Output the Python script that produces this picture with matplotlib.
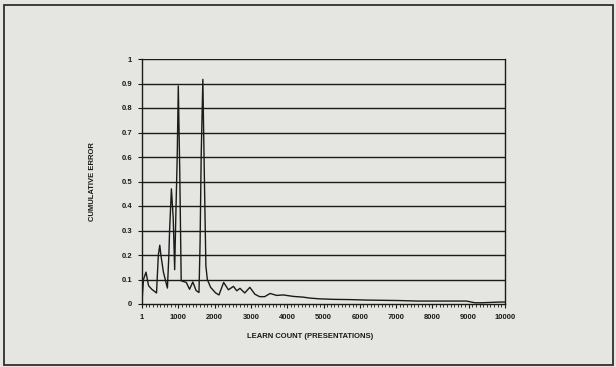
"""
Cumulative error vs learn count, redrawn from a scanned chart
"""

import matplotlib
matplotlib.use('Agg')
import matplotlib.pyplot as plt
from matplotlib.ticker import MultipleLocator
from matplotlib.patches import Rectangle

# learn count (the "1" tick sits at 0) and cumulative error
learn_count = [0, 40, 110, 180, 270, 400, 450, 490, 520, 590, 700,
               740, 760, 810, 860, 900, 930, 970, 1000, 1040, 1080,
               1220, 1310, 1400, 1490, 1570, 1600, 1630, 1676, 1720,
               1760, 1800, 1890, 2030, 2120, 2250, 2380, 2520, 2610,
               2700, 2830, 2970, 3110, 3240, 3380, 3530, 3710, 3890,
               4170, 4440, 4630, 4900, 5260, 5720, 6190, 6650, 7110,
               7580, 8020, 8940, 9170, 9350, 9870, 10000]
cum_error = [0.01, 0.10, 0.13, 0.075, 0.06, 0.045, 0.2, 0.24, 0.2,
             0.13, 0.065, 0.2, 0.3, 0.47, 0.35, 0.14, 0.35, 0.6, 0.89,
             0.54, 0.095, 0.088, 0.06, 0.09, 0.055, 0.047, 0.25, 0.6,
             0.917, 0.5, 0.155, 0.1, 0.068, 0.045, 0.037, 0.088, 0.058,
             0.072, 0.054, 0.064, 0.045, 0.068, 0.04, 0.03, 0.03, 0.043,
             0.035, 0.037, 0.031, 0.028, 0.024, 0.021, 0.019, 0.018,
             0.016, 0.015, 0.014, 0.012, 0.012, 0.012, 0.005, 0.005,
             0.008, 0.008]

x_ticks = [0, 1000, 2000, 3000, 4000, 5000, 6000, 7000, 8000, 9000, 10000]
x_labels = ['1', '1000', '2000', '3000', '4000', '5000', '6000', '7000',
            '8000', '9000', '10000']
y_ticks = [0, 0.1, 0.2, 0.3, 0.4, 0.5, 0.6, 0.7, 0.8, 0.9, 1]
y_labels = ['0', '0.1', '0.2', '0.3', '0.4', '0.5', '0.6', '0.7', '0.8',
            '0.9', '1']

bg = '#e5e6e1'
ink = '#1a1a1a'

fig = plt.figure(figsize=(6.16, 3.67), dpi=100, facecolor=bg)

# scanned page frame
fig.patches.append(Rectangle((4 / 616, 1 - 365 / 367), 609 / 616, 360 / 367,
                             transform=fig.transFigure, fill=False,
                             edgecolor='#303030', linewidth=1.3))

ax = fig.add_axes([142 / 616, 1 - 304 / 367, 363 / 616, 245 / 367])
ax.set_facecolor(bg)

for y in y_ticks[1:]:
    ax.axhline(y, color=ink, linewidth=1.0, zorder=1)

ax.plot(learn_count, cum_error, color=ink, linewidth=1.0, zorder=2)

ax.set_xlim(0, 10000)
ax.set_ylim(0, 1)
ax.set_xticks(x_ticks)
ax.set_xticklabels(x_labels)
ax.xaxis.set_minor_locator(MultipleLocator(100))
ax.set_yticks(y_ticks)
ax.set_yticklabels(y_labels)

for s in ['left', 'bottom', 'right']:
    ax.spines[s].set_color(ink)
    ax.spines[s].set_linewidth(1.0)
ax.spines['top'].set_visible(False)

ax.tick_params(axis='both', which='major', direction='out', length=3,
               width=0.8, color=ink, labelsize=5.5, labelcolor=ink, pad=4)
ax.tick_params(axis='x', which='minor', direction='out', length=2,
               width=0.6, color=ink)
for lab in ax.get_xticklabels() + ax.get_yticklabels():
    lab.set_fontweight('bold')
    lab.set_family('Liberation Sans')

ax.set_xlabel('LEARN COUNT (PRESENTATIONS)', fontsize=5.5,
              fontweight='bold', family='Liberation Sans', color=ink)
ax.set_ylabel('CUMULATIVE ERROR', fontsize=5.5, fontweight='bold',
              family='Liberation Sans', color=ink)
ax.xaxis.set_label_coords((310 - 142) / 363, -(337 - 304) / 245)
ax.yaxis.set_label_coords(-(142 - 92) / 363, 0.5)
ax.xaxis.label.set_va('center')
ax.yaxis.label.set_va('center')

fig.savefig('out.png', dpi=100, facecolor=bg)
